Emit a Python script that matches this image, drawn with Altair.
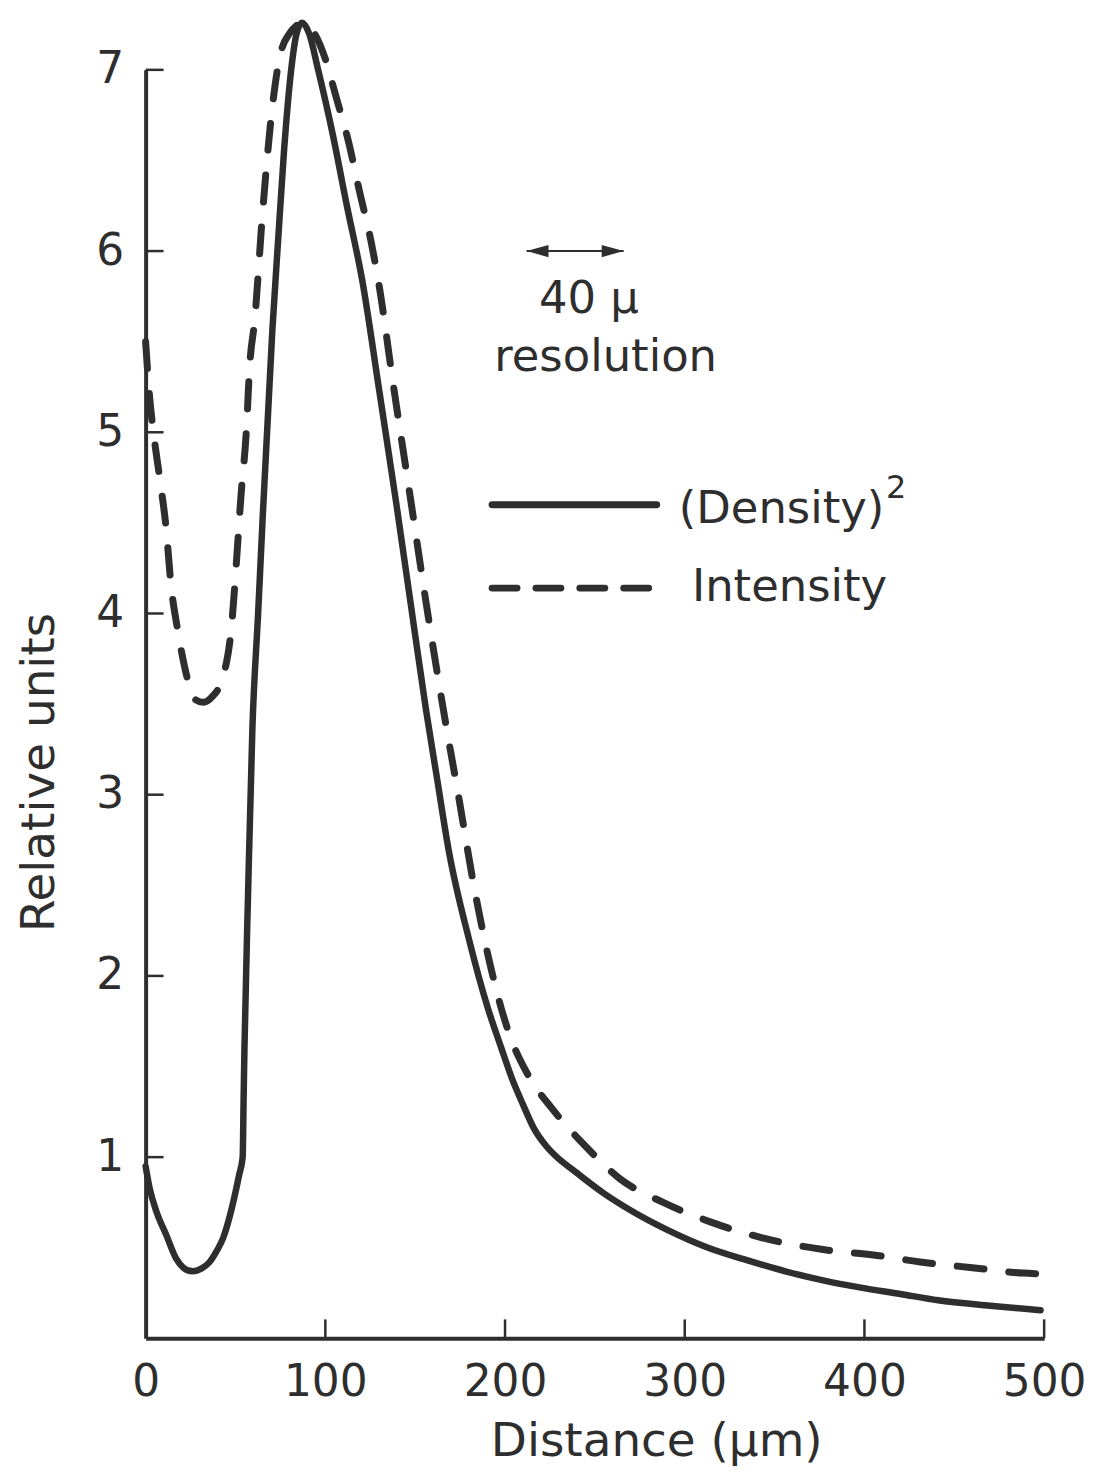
import altair as alt
import pandas as pd

# ---- data ----
x_density = [0, 2.2, 6, 11.5, 17, 21, 26, 31, 35.5, 40, 43, 48, 52, 54, 54.5, 55, 57, 59.4,
             62.6, 65, 70.5, 74, 77, 81, 84, 87, 91, 96, 104, 112, 120.7, 130, 139.3, 148,
             156, 162, 168.9, 180, 190.2, 198, 204, 210, 216, 223, 230, 239, 255, 271, 290,
             313, 335, 356, 377, 398, 420, 441, 470, 498]
y_density = [0.95, 0.83, 0.7, 0.57, 0.44, 0.39, 0.37, 0.385, 0.42, 0.49, 0.55, 0.72, 0.9, 1.0,
             1.3, 1.6, 2.45, 3.36, 4.0, 4.5, 5.56, 6.1, 6.55, 7.0, 7.2, 7.26, 7.2, 7.0, 6.65,
             6.25, 5.83, 5.23, 4.62, 4.02, 3.47, 3.1, 2.68, 2.2, 1.83, 1.6, 1.43, 1.29, 1.16,
             1.06, 0.99, 0.92, 0.8, 0.70, 0.6, 0.50, 0.43, 0.37, 0.32, 0.28, 0.245, 0.21,
             0.18, 0.155]

x_intensity = [0, 2, 5, 7.8, 11.5, 14, 18, 23, 27, 32, 37, 43, 48, 50.5, 53, 56, 58, 60.6, 65,
               70, 74.4, 80, 88, 94, 100, 106, 113, 119, 125.5, 129.6, 138, 147.6, 157, 166.7,
               174, 182.8, 192, 202, 213, 226, 244.8, 264, 288, 315, 345, 377, 405, 432, 460,
               488, 500]
y_intensity = [5.5, 5.22, 4.95, 4.75, 4.46, 4.17, 3.9, 3.65, 3.53, 3.51, 3.54, 3.65, 3.95, 4.28,
               4.64, 5.0, 5.38, 5.61, 6.2, 6.75, 7.06, 7.2, 7.26, 7.2, 7.06, 6.85, 6.6, 6.33,
               6.05, 5.83, 5.25, 4.62, 4.0, 3.41, 3.0, 2.49, 2.05, 1.69, 1.45, 1.27, 1.06, 0.88,
               0.75, 0.64, 0.55, 0.49, 0.46, 0.42, 0.39, 0.36, 0.355]

x_tick_labels = [0, 100, 200, 300, 400, 500]
x_ticks = [100, 200, 300, 400, 500]
y_ticks = [1, 2, 3, 4, 5, 6, 7]

# annotations (data coordinates)
arrow_x = [212, 266]
arrow_y = [6.0, 6.0]
center_text = ["40 µ", "resolution"]
center_x = [246.7, 256]
center_y = [5.66, 5.34]
legend_text = ["(Density)", "Intensity"]
legend_tx = [296.7, 304]
legend_ty = [4.50, 4.07]
sup_text = ["2"]
sup_x = [412]
sup_y = [4.64]
leg_solid_x = [192.8, 284.4]
leg_solid_y = [4.6, 4.6]
leg_dash_x = [192.8, 281]
leg_dash_y = [4.14, 4.14]

W, H = 901, 1272
INK = "#2e2e2e"
FONT = "DejaVu Sans"

xs = alt.Scale(domain=[0, 500], nice=False, zero=False)
ys = alt.Scale(domain=[0, 7], nice=False, zero=False)

x_axis = alt.Axis(values=x_tick_labels, ticks=False, grid=False, domainWidth=4,
                  domainColor=INK, labelFont=FONT, labelFontSize=44, labelColor=INK,
                  labelPadding=22, labelFlush=False, format="d",
                  title="Distance (µm)", titleFont=FONT, titleFontSize=47,
                  titleFontWeight="normal", titleColor=INK, titleX=512, titleY=117,
                  titleBaseline="alphabetic", titleAlign="center")
y_axis = alt.Axis(values=y_ticks, ticks=False, grid=False, domainWidth=4, domainColor=INK,
                  labelFont=FONT, labelFontSize=44, labelColor=INK, labelPadding=22,
                  labelFlush=False, format="d",
                  title="Relative units", titleFont=FONT, titleFontSize=47,
                  titleFontWeight="normal", titleColor=INK, titleAngle=270, titleX=-92,
                  titleY=704, titleBaseline="alphabetic", titleAlign="center")


def X(field):
    return alt.X(field, scale=xs, axis=x_axis)


def Y(field):
    return alt.Y(field, scale=ys, axis=y_axis)


dens = pd.DataFrame({"x": x_density, "y": y_density})
inten = pd.DataFrame({"x": x_intensity, "y": y_intensity})

solid = alt.Chart(dens).mark_line(color=INK, strokeWidth=6.5, interpolate="monotone",
                                  strokeCap="round", strokeJoin="round").encode(
    x=X("x:Q"), y=Y("y:Q"))
dashed = alt.Chart(inten).mark_line(color=INK, strokeWidth=7, interpolate="monotone",
                                    strokeDash=[27, 25], strokeCap="round").encode(
    x=X("x:Q"), y=Y("y:Q"))

ytick_layer = alt.Chart(pd.DataFrame({"v": y_ticks})).mark_rule(color=INK, strokeWidth=2.5).encode(
    y=Y("v:Q"), x=alt.value(0), x2=alt.value(18))
xtick_layer = alt.Chart(pd.DataFrame({"v": x_ticks})).mark_rule(color=INK, strokeWidth=2.5).encode(
    x=X("v:Q"), y=alt.value(H), y2=alt.value(H - 19))

arrow_df = pd.DataFrame({"x": [arrow_x[0]], "x2": [arrow_x[1]], "y": [arrow_y[0]]})
shaft = alt.Chart(arrow_df).mark_rule(color=INK, strokeWidth=2).encode(
    x=X("x:Q"), x2="x2:Q", y=Y("y:Q"))
head_l = alt.Chart(pd.DataFrame({"x": [arrow_x[0]], "y": [arrow_y[0]]})).mark_point(
    shape="M0,0 L1,-0.28 L1,0.28 Z", filled=True, color=INK, opacity=1, size=1936).encode(
    x=X("x:Q"), y=Y("y:Q"))
head_r = alt.Chart(pd.DataFrame({"x": [arrow_x[1]], "y": [arrow_y[1]]})).mark_point(
    shape="M0,0 L-1,-0.28 L-1,0.28 Z", filled=True, color=INK, opacity=1, size=1936).encode(
    x=X("x:Q"), y=Y("y:Q"))

ctext = alt.Chart(pd.DataFrame({"t": center_text, "x": center_x, "y": center_y})).mark_text(
    font=FONT, fontSize=45, color=INK, align="center", baseline="alphabetic").encode(
    x=X("x:Q"), y=Y("y:Q"), text="t:N")
ltext = alt.Chart(pd.DataFrame({"t": legend_text, "x": legend_tx, "y": legend_ty})).mark_text(
    font=FONT, fontSize=45, color=INK, align="left", baseline="alphabetic").encode(
    x=X("x:Q"), y=Y("y:Q"), text="t:N")
stext = alt.Chart(pd.DataFrame({"t": sup_text, "x": sup_x, "y": sup_y})).mark_text(
    font=FONT, fontSize=32, color=INK, align="left", baseline="alphabetic").encode(
    x=X("x:Q"), y=Y("y:Q"), text="t:N")

leg_solid = alt.Chart(pd.DataFrame({"x": [leg_solid_x[0]], "x2": [leg_solid_x[1]],
                                    "y": [leg_solid_y[0]]})).mark_rule(
    color=INK, strokeWidth=7, strokeCap="round").encode(
    x=X("x:Q"), x2="x2:Q", y=Y("y:Q"))
leg_dash = alt.Chart(pd.DataFrame({"x": [leg_dash_x[0]], "x2": [leg_dash_x[1]],
                                   "y": [leg_dash_y[0]]})).mark_rule(
    color=INK, strokeWidth=7, strokeCap="round", strokeDash=[25, 19]).encode(
    x=X("x:Q"), x2="x2:Q", y=Y("y:Q"))

chart = alt.layer(solid, dashed, ytick_layer, xtick_layer, shaft, head_l, head_r,
                  ctext, ltext, stext, leg_solid, leg_dash).properties(
    width=W, height=H,
    background="white",
    autosize=alt.AutoSizeParams(type="none"),
    padding={"left": 138, "top": 60, "right": 50, "bottom": 130},
).configure_view(strokeWidth=0)

chart.save("out.html", embed_options={"renderer": "svg", "actions": False})
